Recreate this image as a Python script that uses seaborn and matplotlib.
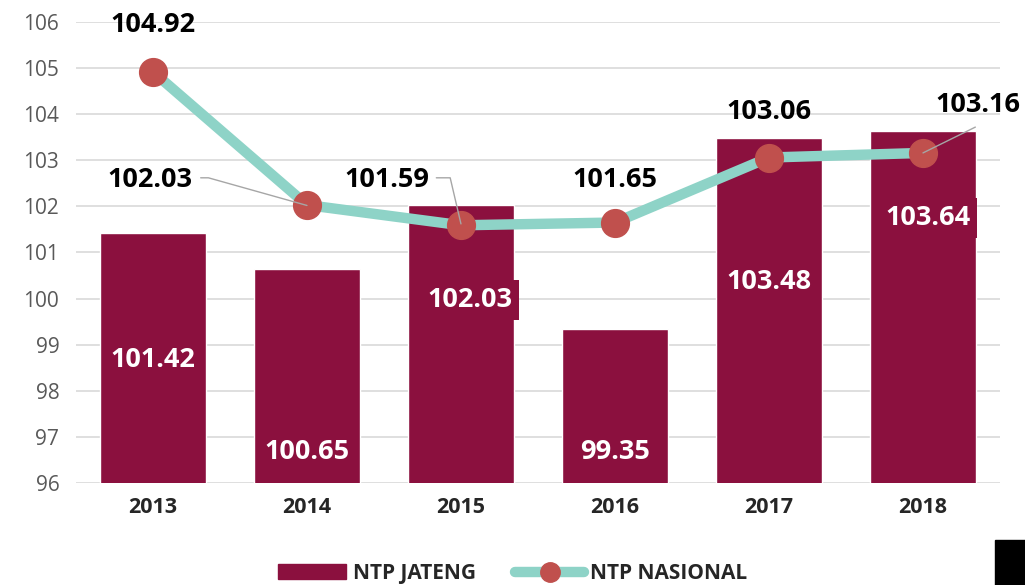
import matplotlib
matplotlib.use("Agg")
import matplotlib.pyplot as plt
import matplotlib.patches as mpatches
from matplotlib.lines import Line2D
import seaborn as sns
import pandas as pd

# data
years = ["2013", "2014", "2015", "2016", "2017", "2018"]
ntp_jateng = [101.42, 100.65, 102.03, 99.35, 103.48, 103.64]
ntp_nasional = [104.92, 102.03, 101.59, 101.65, 103.06, 103.16]

bar_color = "#8B103E"
line_color = "#8ED3C7"
dot_color = "#C0504D"

sns.set_theme(style="white")
plt.rcParams["font.family"] = ["Open Sans", "DejaVu Sans"]

fig = plt.figure(figsize=(10.25, 5.85), dpi=100)
ax = fig.add_axes([0.0741, 0.1744, 0.9015, 0.788])

df = pd.DataFrame({"year": years, "jateng": ntp_jateng})
sns.barplot(data=df, x="year", y="jateng", color=bar_color, saturation=1,
            width=0.69, ax=ax, zorder=2)
ax.plot(range(len(years)), ntp_nasional, color=line_color, lw=7.5, marker="o",
        ms=20, mfc=dot_color, mec=dot_color, zorder=3, solid_capstyle="round")

ax.set_ylim(96, 106)
ax.set_xlim(-0.5, 5.5)
ax.set_yticks(range(96, 107))
ax.yaxis.grid(True, color="#D9D9D9", lw=1.2, zorder=0)
ax.set_axisbelow(True)
for s in ax.spines.values():
    s.set_visible(False)
ax.set_xlabel("")
ax.set_ylabel("")
ax.tick_params(axis="y", labelsize=15, labelcolor="#595959", length=0, pad=12)
ax.tick_params(axis="x", labelsize=15.5, length=0, pad=10)
for t in ax.get_xticklabels():
    t.set_fontweight("bold")

# bar value labels (white on maroon box)
bar_lab_pos = [(0, 98.66), (1, 96.67), (2.06, 99.97), (3, 96.67), (4, 100.36), (5.03, 101.75)]
for (x, y), v in zip(bar_lab_pos, ntp_jateng):
    ax.text(x, y, f"{v:.2f}", ha="center", va="center", color="white",
            fontsize=19.5, fontweight="bold", zorder=5,
            bbox=dict(boxstyle="square,pad=0.25", fc=bar_color, ec="none"))

# line value labels
line_lab_pos = [(0, 105.93), (-0.02, 102.57), (1.52, 102.57), (3, 102.57), (4, 104.05), (5.36, 104.2)]
for (x, y), v in zip(line_lab_pos, ntp_nasional):
    ax.text(x, y, f"{v:.2f}", ha="center", va="center", color="black",
            fontsize=19.5, fontweight="bold", zorder=5)

# leader lines
ax.plot([0.31, 0.36, 1.0], [102.62, 102.62, 102.02], color="#A6A6A6", lw=1, zorder=4)
ax.plot([1.84, 1.93, 2.0], [102.62, 102.62, 101.62], color="#A6A6A6", lw=1, zorder=4)
ax.plot([5.0, 5.34], [103.16, 103.72], color="#A6A6A6", lw=1, zorder=4)

handles = [
    mpatches.Patch(color=bar_color, label="NTP JATENG"),
    Line2D([], [], color=line_color, lw=7.5, marker="o", ms=14, mfc=dot_color,
           mec=dot_color, label="NTP NASIONAL", solid_capstyle="round"),
]
fig.legend(handles=handles, loc="lower center", bbox_to_anchor=(0.5, -0.03), ncol=2,
           frameon=False, prop={"weight": "bold", "size": 15}, handlelength=3.3,
           handletextpad=0.3, columnspacing=1.9)

# cropped black mark at bottom right corner
fig.patches.append(mpatches.Rectangle((995 / 1025, 0), 30 / 1025, 45 / 585,
                                      transform=fig.transFigure, color="black"))

fig.savefig("out.png", dpi=100)
